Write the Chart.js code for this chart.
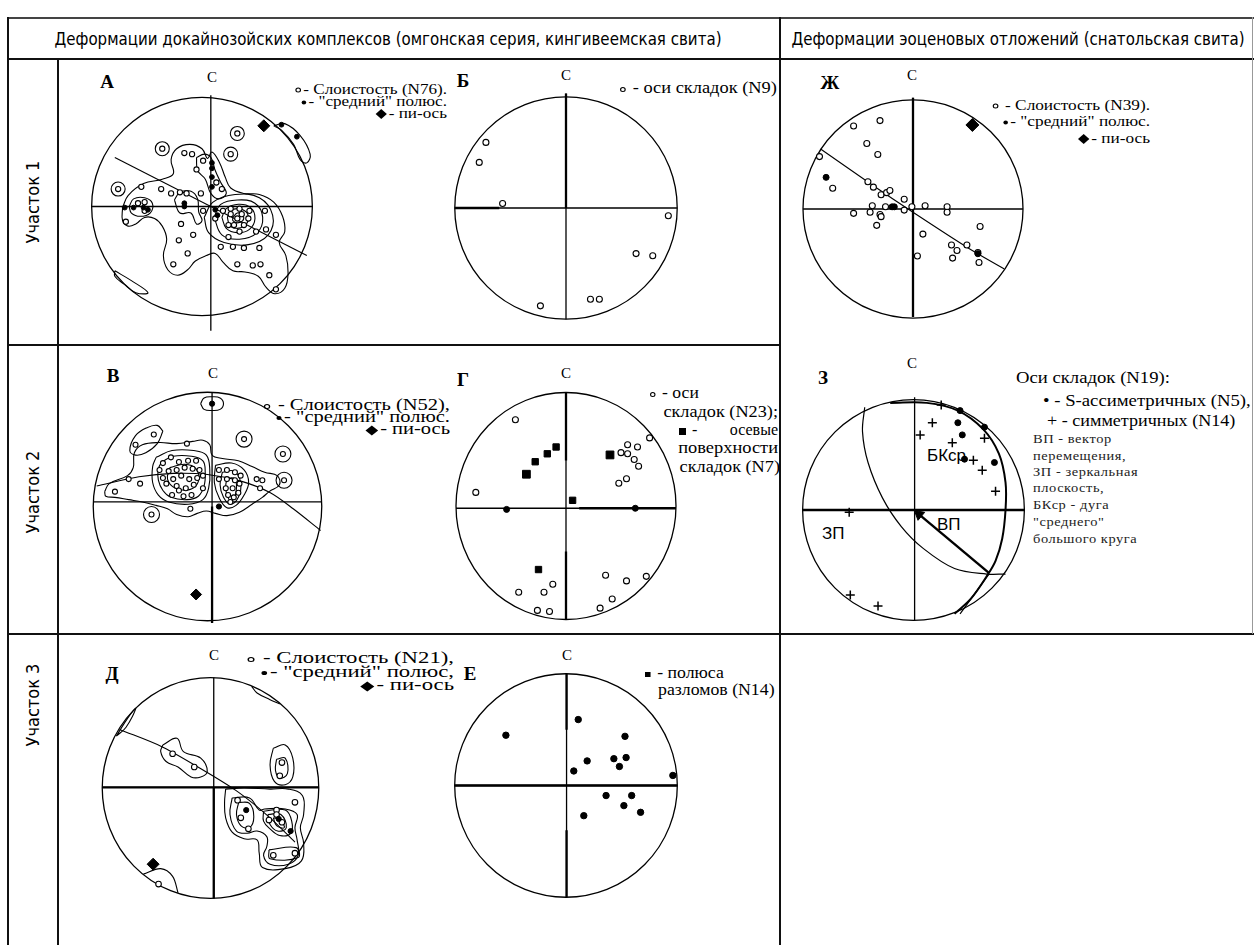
<!DOCTYPE html>
<html lang="ru">
<head>
<meta charset="utf-8">
<title>Стереограммы деформаций</title>
<script src="https://cdn.jsdelivr.net/npm/chart.js@4.4.1/dist/chart.umd.min.js"></script>
<style>
  html, body { margin: 0; padding: 0; background: #fff; }
  #page { position: relative; width: 1254px; height: 945px; overflow: hidden; color: #000;
          font-family: "Liberation Serif", "Times New Roman", serif; }
  .ln { position: absolute; background: #111; }
  .t { position: absolute; white-space: nowrap; line-height: 1;
       transform: translateY(-50%) scaleX(var(--sx, 1)); transform-origin: 0 50%; }
  .r { transform: translate(-100%, -50%) scaleX(var(--sx, 1)); transform-origin: 100% 50%; }
  .m { transform: translate(-50%, -50%) scaleX(var(--sx, 1)); transform-origin: 50% 50%; }
  .hd { font-family: "DejaVu Sans Condensed", "DejaVu Sans", sans-serif; font-size: 18px; }
  .row { font-family: "DejaVu Sans Condensed", "DejaVu Sans", sans-serif; font-size: 18px;
         transform: translate(-50%, -50%) rotate(-90deg); transform-origin: 50% 50%; }
  .let { font-weight: bold; font-size: 19px; }
  .n { font-size: 15px; }
  .lg { font-size: 15px; }
  .lg2 { font-size: 16px; }
  .sm { font-size: 13px; letter-spacing: 0.5px; color: #222; }
  .sf { font-family: "Liberation Sans", Arial, sans-serif; font-size: 17px; }
  .oc, .fd, .dm, .sq { display: inline-block; vertical-align: middle; margin-right: 2px; }
  .oc { width: 3px; height: 3px; border: 1.2px solid #000; border-radius: 50%; }
  .fd { width: 4px; height: 4px; background: #000; border-radius: 50%; }
  .dm { width: 7px; height: 7px; background: #000; transform: rotate(45deg); margin-right: 3px; }
  .sq { width: 7px; height: 7px; background: #000; }
</style>
</head>
<body>
<div id="page">
  <!-- рамка таблицы -->
  <div class="ln" style="left:8px;top:17px;width:1246px;height:1.5px;background:#444"></div>
  <div class="ln" style="left:8px;top:58px;width:1246px;height:1.5px"></div>
  <div class="ln" style="left:7px;top:17px;width:1.5px;height:928px"></div>
  <div class="ln" style="left:57px;top:58px;width:1.5px;height:887px"></div>
  <div class="ln" style="left:779px;top:17px;width:1.5px;height:928px"></div>
  <div class="ln" style="left:8px;top:344px;width:772px;height:1.5px"></div>
  <div class="ln" style="left:8px;top:633px;width:1246px;height:1.5px"></div>
  <div class="ln" style="left:1252px;top:17px;width:1px;height:617px;background:#999"></div>

  <div class="t m hd" style="left:388px;top:39px;--sx:0.93">Деформации докайнозойских комплексов (омгонская серия, кингивеемская свита)</div>
  <div class="t m hd" style="left:1018px;top:39px;--sx:0.93">Деформации эоценовых отложений (снатольская свита)</div>

  <div class="t row" style="left:33px;top:202px">Участок 1</div>
  <div class="t row" style="left:33px;top:492px">Участок 2</div>
  <div class="t row" style="left:33px;top:705px">Участок 3</div>

  <!-- буквы и север -->
  <div class="t m let" style="left:107px;top:81px">А</div>
  <div class="t m let" style="left:463px;top:80px">Б</div>
  <div class="t m let" style="left:830px;top:82px">Ж</div>
  <div class="t m let" style="left:113px;top:375px">В</div>
  <div class="t m let" style="left:463px;top:379px">Г</div>
  <div class="t m let" style="left:823px;top:377px">З</div>
  <div class="t m let" style="left:112px;top:673px">Д</div>
  <div class="t m let" style="left:470px;top:673px">Е</div>

  <div class="t m n" style="left:212px;top:77px">С</div>
  <div class="t m n" style="left:566px;top:75px">С</div>
  <div class="t m n" style="left:912px;top:75px">С</div>
  <div class="t m n" style="left:213px;top:373px">С</div>
  <div class="t m n" style="left:566px;top:373px">С</div>
  <div class="t m n" style="left:912px;top:363px">С</div>
  <div class="t m n" style="left:214px;top:655px">С</div>
  <div class="t m n" style="left:567px;top:655px">С</div>

  <!-- легенды -->
  <div class="t r lg" style="left:447px;top:89px;--sx:1.14"><i class="oc"></i>- Слоистость (N76).</div>
  <div class="t r lg" style="left:447px;top:101px;--sx:1.14"><i class="fd"></i>- "средний" полюс.</div>
  <div class="t r lg" style="left:447px;top:113px;--sx:1.14"><i class="dm"></i>- пи-ось</div>

  <div class="t lg2" style="left:620px;top:88px;--sx:1.15"><i class="oc"></i>&nbsp;- оси складок (N9)</div>

  <div class="t r lg" style="left:1150px;top:105px;--sx:1.15"><i class="oc"></i>&nbsp;- Слоистость (N39).</div>
  <div class="t r lg" style="left:1150px;top:121px;--sx:1.15"><i class="fd"></i>- "средний" полюс.</div>
  <div class="t r lg" style="left:1150px;top:138px;--sx:1.15"><i class="dm"></i>- пи-ось</div>

  <div class="t r lg2" style="left:450px;top:405px;--sx:1.28"><i class="oc"></i>&nbsp;- Слоистость (N52),</div>
  <div class="t r lg2" style="left:450px;top:417px;--sx:1.28"><i class="fd"></i>- "средний" полюс.</div>
  <div class="t r lg2" style="left:450px;top:429px;--sx:1.28"><i class="dm"></i>- пи-ось</div>

  <div class="t lg2" style="left:650px;top:393px;--sx:1.1"><i class="oc"></i>&nbsp;- оси</div>
  <div class="t r lg2" style="left:778px;top:412px;--sx:1.14">складок (N23);</div>
  <div class="t lg2" style="left:679px;top:430px;width:99px;display:flex;justify-content:space-between"><span><i class="sq"></i>&nbsp;-</span><span>осевые</span></div>
  <div class="t r lg2" style="left:778px;top:448px;--sx:1.15">поверхности</div>
  <div class="t r lg2" style="left:780px;top:467px;--sx:1.14">складок (N7)</div>

  <div class="t lg2" style="left:1016px;top:377px;font-size:17px;--sx:1.1">Оси складок (N19):</div>
  <div class="t lg2" style="left:1043px;top:401px;--sx:1.17">• - S-ассиметричных (N5),</div>
  <div class="t lg2" style="left:1047px;top:421px;--sx:1.13">+ - симметричных (N14)</div>
  <div class="t sm" style="left:1033px;top:438px;--sx:1.11">ВП - вектор</div>
  <div class="t sm" style="left:1033px;top:455px;--sx:1.11">перемещения,</div>
  <div class="t sm" style="left:1033px;top:471px;--sx:1.11">ЗП - зеркальная</div>
  <div class="t sm" style="left:1033px;top:487px;--sx:1.11">плоскость,</div>
  <div class="t sm" style="left:1033px;top:504px;--sx:1.11">БКср - дуга</div>
  <div class="t sm" style="left:1033px;top:521px;--sx:1.11">"среднего"</div>
  <div class="t sm" style="left:1033px;top:538px;--sx:1.11">большого круга</div>

  <div class="t sf" style="left:927px;top:455px">БКср</div>
  <div class="t sf" style="left:937px;top:524px">ВП</div>
  <div class="t sf" style="left:822px;top:533px">ЗП</div>

  <div class="t r lg2" style="left:454px;top:658px;--sx:1.42"><i class="oc"></i>&nbsp;- Слоистость (N21),</div>
  <div class="t r lg2" style="left:454px;top:672px;--sx:1.42"><i class="fd"></i>- "средний" полюс,</div>
  <div class="t r lg2" style="left:454px;top:685px;--sx:1.42"><i class="dm"></i>- пи-ось</div>

  <div class="t lg2" style="left:645px;top:673px;--sx:1.11"><i class="sq" style="width:5px;height:5px"></i>&nbsp;- полюса</div>
  <div class="t lg2" style="left:658px;top:690px;--sx:1.11">разломов (N14)</div>
</div>

<script>
// Координаты точек на круговой диаграмме (единичный круг, север вверху)

// --- А: слоистость, участок 1
const layersA = [[0.32,0.67],[-0.36,0.53],[0.26,0.48],[-0.76,0.16],[-0.16,0.49],[-0.09,0.48],[0.01,0.42],[-0.05,0.34],
  [-0.55,0.18],[-0.37,0.16],[-0.28,0.12],[-0.20,0.13],[-0.14,0.12],[-0.01,0.12],[0.13,0.22],[0.18,0.16],[-0.52,0.04],
  [-0.58,0.03],[-0.69,-0.14],[-0.52,-0.04],[-0.19,-0.16],[-0.08,-0.26],[-0.21,-0.31],[-0.13,-0.43],[-0.26,-0.53],
  [0.19,-0.04],[0.12,-0.11],[0.32,-0.11],[0.26,-0.07],[0.36,-0.07],[0.29,-0.17],[0.38,-0.17],[0.42,-0.11],[0.24,-0.17],
  [0.34,-0.02],[0.26,-0.02],[0.43,-0.04],[0.34,-0.23],[0.57,-0.04],[0.58,-0.21],[0.67,-0.26],[0.49,-0.23],[0.24,-0.28],
  [0.17,-0.37],[0.28,-0.37],[0.38,-0.38],[0.52,-0.38],[0.32,-0.53],[0.46,-0.54],[0.53,-0.53],[0.61,-0.63],[0.67,-0.76],[0.01,-0.04]];
const polesA = [[0.72,0.75],[0.86,0.64],[-0.70,-0.01],[-0.62,-0.01],[-0.53,-0.01],[-0.49,-0.03],[-0.16,0.03],[-0.16,0.0],
  [0.09,0.40],[0.09,0.35],[0.09,0.27],[0.09,0.18],[0.12,-0.03],[0.14,-0.08]];
const piA = [[0.56,0.74]];
const ringsA = [[0.32,0.67],[-0.36,0.53],[0.26,0.48],[-0.76,0.16]];
const girdleA = [[-0.79,0.45],[0.95,-0.45]];
const isolinesA = [
  [[-0.72,-0.01],[-0.67,0.10],[-0.53,0.21],[-0.36,0.25],[-0.26,0.30],[-0.28,0.43],[-0.23,0.53],[-0.11,0.57],[0.0,0.53],
   [0.05,0.44],[0.09,0.50],[0.16,0.40],[0.21,0.27],[0.26,0.17],[0.38,0.12],[0.52,0.11],[0.65,0.04],[0.73,-0.09],[0.75,-0.23],
   [0.70,-0.33],[0.76,-0.45],[0.78,-0.61],[0.75,-0.75],[0.66,-0.80],[0.58,-0.74],[0.51,-0.64],[0.39,-0.60],[0.28,-0.59],
   [0.19,-0.51],[0.12,-0.43],[0.04,-0.45],[-0.06,-0.50],[-0.13,-0.58],[-0.22,-0.63],[-0.31,-0.58],[-0.35,-0.45],[-0.32,-0.30],
   [-0.36,-0.18],[-0.43,-0.11],[-0.52,-0.10],[-0.60,-0.16],[-0.67,-0.18],[-0.72,-0.13]],
  [[-0.66,0.0],[-0.62,0.07],[-0.52,0.08],[-0.45,0.03],[-0.47,-0.06],[-0.56,-0.09],[-0.64,-0.06]],
  [[-0.25,0.06],[-0.20,0.13],[-0.10,0.14],[-0.04,0.07],[-0.03,-0.05],[0.0,-0.13],[-0.05,-0.16],[-0.10,-0.06],[-0.20,-0.06]],
  [[-0.05,0.45],[0.02,0.48],[0.08,0.45],[0.12,0.33],[0.17,0.22],[0.22,0.12],[0.15,0.07],[0.08,0.12],[0.03,0.25],[-0.04,0.33]],
  [[0.02,-0.10],[0.10,0.04],[0.30,0.11],[0.52,0.08],[0.64,-0.08],[0.60,-0.26],[0.42,-0.35],[0.20,-0.33],[0.06,-0.24]],
  [[0.11,-0.10],[0.17,0.02],[0.32,0.06],[0.48,0.03],[0.55,-0.10],[0.50,-0.24],[0.34,-0.30],[0.18,-0.26]],
  [[0.18,-0.10],[0.22,-0.02],[0.33,0.02],[0.44,-0.01],[0.48,-0.11],[0.43,-0.21],[0.32,-0.24],[0.22,-0.20]],
  [[0.23,-0.10],[0.26,-0.04],[0.33,-0.02],[0.40,-0.05],[0.42,-0.12],[0.38,-0.18],[0.31,-0.20],[0.25,-0.17]],
  [[0.28,-0.10],[0.32,-0.06],[0.37,-0.08],[0.37,-0.13],[0.32,-0.15],[0.28,-0.13]],
  [[0.65,0.74],[0.75,0.76],[0.89,0.65],[0.98,0.48],[0.95,0.40],[0.89,0.43],[0.83,0.57],[0.72,0.70]],
  [[-0.79,-0.59],[-0.64,-0.68],[-0.49,-0.79],[-0.60,-0.79],[-0.71,-0.71],[-0.79,-0.64]]
];
const crossA = [[0.08,1.02,0.08,-1.14],[-1,0,1,0]];
const boldA = [];

// --- Б: оси складок, участок 1
const foldsB = [[-0.72,0.59],[-0.78,0.41],[-0.57,0.04],[0.92,-0.07],[0.63,-0.41],[0.78,-0.43],[0.22,-0.82],[0.30,-0.82],[-0.23,-0.88]];
const crossB = [[0,1.03,0,-1.0],[-1,0,1,0]];
const boldB = [[0,1.03,0,0],[-1,0,-0.6,0]];

// --- Ж: слоистость эоцена
const layersZh = [[-0.30,0.81],[-0.54,0.76],[-0.42,0.60],[-0.32,0.50],[-0.85,0.48],[-0.73,0.19],[-0.41,0.25],[-0.36,0.20],
  [-0.29,0.13],[-0.24,0.15],[-0.21,0.17],[-0.08,0.09],[-0.37,0.03],[-0.25,0.02],[-0.01,0.02],[0.11,0.03],[0.31,0.02],
  [0.31,-0.03],[-0.54,-0.04],[-0.39,-0.03],[-0.30,-0.05],[-0.29,-0.07],[-0.33,-0.15],[-0.08,-0.01],[0.09,-0.23],[0.61,-0.16],
  [0.49,-0.33],[0.35,-0.33],[0.40,-0.38],[0.59,-0.40],[0.60,-0.49],[0.36,-0.45],[0.04,-0.43]];
const polesZh = [[-0.79,0.29],[-0.19,0.02],[-0.17,0.02],[0.59,-0.41]];
const piZh = [[0.54,0.77]];
const girdleZh = [[-0.84,0.55],[-0.37,0.22],[0.0,-0.03],[0.49,-0.35],[0.83,-0.55]];
const crossZh = [[0,1.02,0,-0.99],[-1,0,1,0]];
const boldZh = [[0,1.02,0,-0.99]];

// --- В: слоистость, участок 2
const layersV = [[0.32,0.59],[0.66,0.46],[-0.47,0.63],[-0.63,0.54],[-0.18,0.55],[0.67,0.23],[-0.81,0.13],[-0.59,0.20],
  [-0.69,0.24],[0.48,0.23],[0.46,0.16],[0.43,0.24],[-0.49,-0.07],
  [-0.39,0.38],[-0.32,0.43],[-0.25,0.39],[-0.17,0.40],[-0.10,0.40],[-0.42,0.32],[-0.34,0.31],[-0.27,0.32],[-0.20,0.34],
  [-0.13,0.33],[-0.07,0.32],[-0.39,0.25],[-0.30,0.24],[-0.23,0.27],[-0.16,0.24],[-0.09,0.25],[-0.04,0.27],[-0.36,0.20],
  [-0.27,0.18],[-0.19,0.16],[-0.12,0.19],[-0.25,0.14],[-0.31,0.10],[-0.21,0.09],[-0.14,0.10],[-0.04,0.16],
  [0.10,0.32],[0.17,0.32],[0.24,0.30],[0.29,0.27],[0.10,0.24],[0.17,0.24],[0.24,0.23],[0.28,0.20],[0.16,0.16],
  [0.22,0.16],[0.18,0.10],[0.23,0.08],[0.20,0.04],[0.27,0.12],[-0.15,-0.02]];
const polesV = [[0.04,0.90],[0.10,0.0]];
const piV = [[-0.10,-0.77]];
const ringsV = [[0.32,0.59],[0.66,0.46],[0.67,0.23],[-0.49,-0.07]];
const girdleV = [[-0.97,0.18],[-0.60,0.26],[-0.30,0.29],[0.0,0.28],[0.30,0.22],[0.55,0.12],[0.75,-0.02],[0.99,-0.21]];
const isolinesV = [
  [[-0.90,0.13],[-0.86,0.20],[-0.70,0.27],[-0.65,0.34],[-0.64,0.47],[-0.57,0.54],[-0.42,0.56],[-0.27,0.55],[-0.13,0.57],
   [-0.04,0.58],[0.02,0.54],[0.04,0.45],[0.13,0.42],[0.27,0.40],[0.39,0.35],[0.50,0.30],[0.61,0.27],[0.63,0.19],[0.54,0.13],
   [0.48,0.08],[0.39,0.02],[0.28,-0.05],[0.17,-0.08],[0.07,-0.06],[-0.01,-0.04],[-0.09,-0.06],[-0.17,-0.09],[-0.27,-0.07],
   [-0.35,-0.02],[-0.45,0.01],[-0.57,0.04],[-0.69,0.06],[-0.81,0.08],[-0.89,0.09]],
  [[-0.45,0.43],[-0.31,0.49],[-0.12,0.49],[-0.01,0.45],[0.02,0.32],[0.01,0.16],[-0.04,0.06],[-0.17,0.02],[-0.34,0.04],
   [-0.43,0.10],[-0.48,0.21],[-0.48,0.35]],
  [[-0.40,0.39],[-0.30,0.44],[-0.14,0.44],[-0.04,0.40],[-0.02,0.30],[-0.03,0.18],[-0.08,0.09],[-0.18,0.06],[-0.32,0.08],
   [-0.39,0.14],[-0.43,0.23],[-0.43,0.33]],
  [[-0.33,0.34],[-0.20,0.37],[-0.10,0.33],[-0.08,0.22],[-0.15,0.15],[-0.28,0.16],[-0.35,0.24]],
  [[0.07,0.36],[0.21,0.38],[0.32,0.32],[0.36,0.21],[0.32,0.10],[0.25,0.01],[0.17,-0.01],[0.10,0.08],[0.06,0.21]],
  [[0.13,0.30],[0.23,0.31],[0.29,0.21],[0.27,0.08],[0.20,0.02],[0.14,0.08],[0.11,0.19]],
  [[0.17,0.25],[0.24,0.24],[0.25,0.13],[0.21,0.05],[0.17,0.10],[0.16,0.18]],
  [[-0.06,0.90],[-0.03,0.95],[0.04,0.96],[0.11,0.95],[0.14,0.90],[0.11,0.85],[0.04,0.84],[-0.03,0.85]],
  [[-0.39,0.66],[-0.44,0.71],[-0.53,0.69],[-0.63,0.62],[-0.68,0.49],[-0.63,0.45],[-0.54,0.47],[-0.44,0.55]]
];
const crossV = [[0.04,1.0,0.04,-1.02],[-1,0.04,1,0.04]];
const boldV = [[0.04,0,0.04,-1.02]];

// --- Г: оси складок и осевые поверхности
const foldsG = [[-0.46,0.76],[-0.82,0.12],[0.76,0.60],[0.56,0.54],[0.65,0.52],[0.50,0.47],[0.56,0.46],[0.62,0.41],
  [0.66,0.35],[0.55,0.24],[0.48,0.20],[-0.43,-0.76],[-0.20,-0.76],[-0.12,-0.69],[-0.26,-0.92],[-0.15,-0.93],
  [0.36,-0.61],[0.55,-0.66],[0.73,-0.62],[0.42,-0.82],[0.31,-0.90]];
const dotsG = [[-0.54,-0.03],[0.63,-0.02]];
const planesG = [[-0.09,0.52],[-0.17,0.46],[-0.28,0.39],[0.06,0.05],[-0.25,-0.56]];
const planesBigG = [[-0.36,0.28],[0.40,0.45]];
const crossG = [[0,1.0,0,-1.0],[-1,-0.02,1,-0.02]];
const boldG = [[0,1.0,0,0.4],[0,-0.4,0,-1.0],[0.12,-0.02,1,-0.02]];

// --- З: оси складок эоцена, зеркальная плоскость
const symZ = [[0.25,0.95],[0.17,0.79],[0.06,0.68],[0.35,0.61],[0.64,0.65],[0.54,0.45],[0.62,0.36],[0.74,0.17],
  [-0.57,-0.77],[-0.32,-0.87],[-0.58,-0.02]];
const asymZ = [[0.42,0.90],[0.40,0.79],[0.44,0.68],[0.64,0.75],[0.73,0.43],[0.46,0.46]];
const mirrorZ = [[-0.44,0.93],[-0.46,0.71],[-0.41,0.43],[-0.28,0.11],[-0.11,-0.15],[0.09,-0.35],[0.37,-0.53],[0.66,-0.58],[0.83,-0.58]];
const meanArcZ = [[-0.21,0.97],[0.12,0.97],[0.40,0.90],[0.63,0.73],[0.77,0.51],[0.83,0.25],[0.83,0.0],[0.80,-0.26],
  [0.74,-0.46],[0.66,-0.60],[0.52,-0.80],[0.37,-0.94]];
const tailZ = [[0.68,-0.58],[0.42,-0.94]];
const vectorZ = [[0.68,-0.57],[0.05,-0.04]];
const crossZ = [[0.01,1.02,0.01,-1.0],[-1,0,1,0]];
const boldZ = [[-1,0,1,0]];

// --- Д: слоистость, участок 3
const layersD = [[-0.35,0.31],[-0.15,0.19],[0.66,0.23],[0.64,0.11],[0.25,-0.11],[0.28,-0.27],[0.35,-0.37],[0.78,-0.13],
  [0.61,-0.20],[0.54,-0.29],[0.61,-0.24],[0.66,-0.31],[0.58,-0.61],[0.78,-0.59],[-0.48,-0.87]];
const polesD = [[0.33,-0.20],[0.74,-0.39],[0.63,-0.28]];
const piD = [[-0.53,-0.69]];
const girdleD = [[-0.84,0.53],[-0.44,0.37],[-0.03,0.14],[0.26,-0.04],[0.55,-0.27],[0.78,-0.49]];
const isolinesD = [
  [[-0.44,0.39],[-0.31,0.45],[-0.25,0.33],[-0.09,0.27],[-0.03,0.15],[-0.09,0.10],[-0.18,0.10],[-0.30,0.19],[-0.41,0.24],[-0.46,0.33]],
  [[0.58,0.36],[0.69,0.39],[0.76,0.27],[0.76,0.10],[0.69,0.03],[0.59,0.06],[0.55,0.21]],
  [[0.61,0.26],[0.69,0.27],[0.71,0.13],[0.64,0.09],[0.60,0.16]],
  [[0.14,-0.01],[0.31,0.0],[0.55,-0.01],[0.72,-0.01],[0.85,-0.07],[0.86,-0.24],[0.83,-0.36],[0.86,-0.50],[0.84,-0.66],
   [0.69,-0.73],[0.48,-0.72],[0.45,-0.59],[0.43,-0.47],[0.31,-0.46],[0.20,-0.40],[0.14,-0.27],[0.13,-0.13]],
  [[0.20,-0.09],[0.36,-0.09],[0.45,-0.20],[0.50,-0.19],[0.69,-0.19],[0.80,-0.24],[0.78,-0.36],[0.80,-0.47],[0.81,-0.61],
   [0.72,-0.69],[0.55,-0.69],[0.49,-0.61],[0.52,-0.53],[0.52,-0.44],[0.43,-0.39],[0.34,-0.41],[0.24,-0.39],[0.18,-0.24]],
  [[0.26,-0.13],[0.36,-0.14],[0.40,-0.26],[0.36,-0.36],[0.28,-0.34],[0.24,-0.24]],
  [[0.49,-0.21],[0.69,-0.20],[0.75,-0.30],[0.74,-0.41],[0.64,-0.43],[0.55,-0.37],[0.49,-0.30]],
  [[0.53,-0.24],[0.65,-0.24],[0.70,-0.36],[0.62,-0.39],[0.55,-0.33]],
  [[0.58,-0.27],[0.65,-0.29],[0.68,-0.36],[0.61,-0.34]],
  [[0.54,-0.56],[0.79,-0.54],[0.81,-0.63],[0.55,-0.64]],
  [[-0.87,0.47],[-0.78,0.55],[-0.69,0.72],[-0.76,0.64]]
];
const edgeArcsD = [
  [[0.38,0.92],[0.43,0.86],[0.55,0.80],[0.64,0.76]],
  [[-0.62,-0.78],[-0.46,-0.73],[-0.35,-0.80],[-0.30,-0.95]]
];
const crossD = [[0.03,1.0,0.03,-1.0],[-1,0.005,1,0.005]];
const boldD = [[0.03,0,0.03,-1.0],[-1,0.005,1,0.005]];

// --- Е: полюса разломов
const faultsE = [[0.11,0.59],[-0.54,0.45],[0.53,0.44],[0.19,0.22],[0.43,0.24],[0.54,0.25],[0.48,0.17],[0.07,0.13],
  [0.96,0.09],[0.36,-0.09],[0.59,-0.09],[0.52,-0.18],[0.67,-0.24],[0.16,-0.27]];
const crossE = [[0.005,1.0,0.005,-1.0],[-1,0,1,0]];
const boldE = [[0.005,1.0,0.005,0.5],[0.005,-0.4,0.005,-1.0],[-1,0,1,0]];

// положение диаграмм на странице (центр и радиусы круга, px)
const nets = {
  A:  { cx: 202.3, cy: 206.7, rx: 117.3, ry: 116 },
  B:  { cx: 565.8, cy: 207.5, rx: 115.8, ry: 115.8 },
  Zh: { cx: 913.3, cy: 209.2, rx: 116.7, ry: 115.8 },
  V:  { cx: 207.7, cy: 506,   rx: 122,   ry: 122 },
  G:  { cx: 566,   cy: 506,   rx: 115.7, ry: 119 },
  Z:  { cx: 913,   cy: 509.7, rx: 117,   ry: 116.7 },
  D:  { cx: 210.7, cy: 788.3, rx: 114.3, ry: 116.7 },
  E:  { cx: 566,   cy: 785.7, rx: 115.7, ry: 116 }
};

const SPAN = 1.15;
const page = document.getElementById('page');

// окружность проекции рисуем по шкалам графика
const primitive = {
  id: 'primitive',
  beforeDatasetsDraw(chart, args, opts) {
    const xs = chart.scales.x, ys = chart.scales.y, ctx = chart.ctx;
    const cx = xs.getPixelForValue(0), cy = ys.getPixelForValue(0);
    const rx = xs.getPixelForValue(1) - cx, ry = cy - ys.getPixelForValue(1);
    ctx.save();
    ctx.strokeStyle = '#000';
    ctx.lineWidth = opts.width || 1.3;
    ctx.beginPath();
    ctx.ellipse(cx, cy, rx, ry, 0, 0, Math.PI * 2);
    ctx.stroke();
    ctx.restore();
  }
};

const P = a => a.map(([x, y]) => ({ x, y }));

function marks(data, style) {
  return Object.assign({ data: P(data), showLine: false, clip: false, order: 0 }, style);
}
const openDot = r => ({ pointStyle: 'circle', pointRadius: r, backgroundColor: '#fff', borderColor: '#000', borderWidth: 1.1 });
const halo = r => ({ pointStyle: 'circle', pointRadius: r, backgroundColor: 'rgba(0,0,0,0)', borderColor: '#000', borderWidth: 1.1, order: 1 });
const fillDot = r => ({ pointStyle: 'circle', pointRadius: r, backgroundColor: '#000', borderColor: '#000', borderWidth: 1 });
const diamond = r => ({ pointStyle: 'rectRot', pointRadius: r, backgroundColor: '#000', borderColor: '#000', borderWidth: 1 });
const square = r => ({ pointStyle: 'rect', pointRadius: r, backgroundColor: '#000', borderColor: '#000', borderWidth: 1 });
const plus = r => ({ pointStyle: 'cross', pointRadius: r, borderColor: '#000', borderWidth: 1.5 });

function line(data, width, tension, order) {
  return { data: P(data), showLine: true, pointRadius: 0, borderColor: '#000', borderWidth: width,
           tension: tension, fill: false, clip: false, order: order };
}
const isoline = (data, w) => line(data.concat([data[0]]), w || 1.1, 0.4, 2);

function crossSets(thin, bold) {
  const s = thin.map(c => line([[c[0], c[1]], [c[2], c[3]]], 1.3, 0, 3));
  bold.forEach(c => s.push(line([[c[0], c[1]], [c[2], c[3]]], 2.3, 0, 3)));
  return s;
}

function makeNet(g, datasets) {
  const w = Math.round(2 * SPAN * g.rx), h = Math.round(2 * SPAN * g.ry);
  const cv = document.createElement('canvas');
  cv.width = w; cv.height = h;
  cv.style.cssText = `position:absolute;left:${g.cx - w / 2}px;top:${g.cy - h / 2}px;width:${w}px;height:${h}px`;
  page.appendChild(cv);
  return new Chart(cv, {
    type: 'scatter',
    data: { datasets: datasets },
    options: {
      responsive: false,
      animation: false,
      events: [],
      layout: { padding: 0 },
      plugins: { legend: { display: false }, tooltip: { enabled: false }, primitive: { width: 1.3 } },
      scales: {
        x: { type: 'linear', display: false, min: -SPAN, max: SPAN },
        y: { type: 'linear', display: false, min: -SPAN, max: SPAN }
      }
    },
    plugins: [primitive]
  });
}

makeNet(nets.A, [
  marks(piA, diamond(6)),
  marks(polesA, fillDot(2.4)),
  marks(layersA, openDot(2.6)),
  marks(ringsA, halo(7)),
  ...isolinesA.map(c => isoline(c)),
  line(girdleA, 1.1, 0, 2),
  ...crossSets(crossA, boldA)
]);

makeNet(nets.B, [
  marks(foldsB, openDot(3)),
  ...crossSets(crossB, boldB)
]);

makeNet(nets.Zh, [
  marks(piZh, diamond(6.5)),
  marks(polesZh, fillDot(3)),
  marks(layersZh, openDot(3)),
  line(girdleZh, 1.1, 0.3, 2),
  ...crossSets(crossZh, boldZh)
]);

makeNet(nets.V, [
  marks(piV, diamond(5.5)),
  marks(polesV, fillDot(2.6)),
  marks(layersV, openDot(2.5)),
  marks(ringsV, halo(8)),
  ...isolinesV.map(c => isoline(c)),
  line(girdleV, 1.1, 0.3, 2),
  ...crossSets(crossV, boldV)
]);

makeNet(nets.G, [
  marks(planesBigG, square(5.5)),
  marks(planesG, square(4.5)),
  marks(dotsG, fillDot(3)),
  marks(foldsG, openDot(3)),
  ...crossSets(crossG, boldG)
]);

makeNet(nets.Z, [
  marks([vectorZ[1]], { pointStyle: 'triangle', pointRadius: 6, rotation: -50, backgroundColor: '#000', borderColor: '#000' }),
  marks(asymZ, fillDot(3)),
  marks(symZ, plus(4.5)),
  line(vectorZ, 2.4, 0, 1),
  line(meanArcZ, 2, 0.35, 2),
  line(mirrorZ, 1.2, 0.35, 2),
  line(tailZ, 1.2, 0, 2),
  ...crossSets(crossZ, boldZ)
]);

makeNet(nets.D, [
  marks(piD, diamond(6)),
  marks(polesD, fillDot(2.6)),
  marks(layersD, openDot(2.8)),
  ...isolinesD.map(c => isoline(c)),
  ...edgeArcsD.map(c => line(c, 1.1, 0.35, 2)),
  line(girdleD, 1.1, 0.3, 2),
  ...crossSets(crossD, boldD)
]);

makeNet(nets.E, [
  marks(faultsE, fillDot(3.2)),
  ...crossSets(crossE, boldE)
]);
</script>
</body>
</html>
